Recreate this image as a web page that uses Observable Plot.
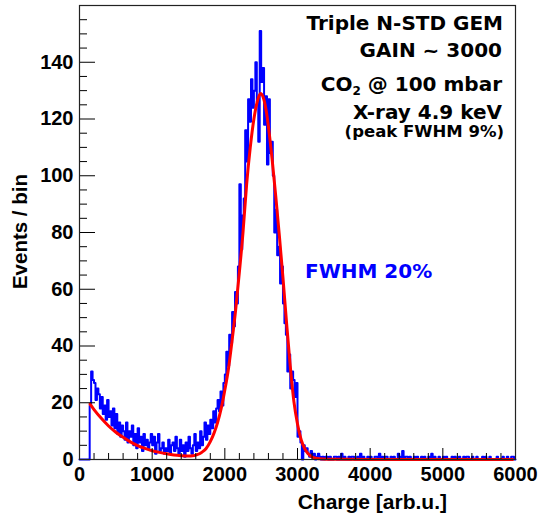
<!DOCTYPE html>
<html><head><meta charset="utf-8">
<script src="https://cdn.jsdelivr.net/npm/d3@7"></script>
<script src="https://cdn.jsdelivr.net/npm/@observablehq/plot@0.6"></script>
<style>body{margin:0;background:#fff}</style>
</head><body><div id="chart"></div>
<script>
// Histogram: bin low edge of first filled bin and bin width (arb.u.)
const firstEdge = 140;
const binWidth = 20;
// Events per bin, from 140 to 6000
const counts = [
  // 140 .. 980
  19,31,28,27,21,25,23,18,22,16,19,14,21,15,17,12,18,11,16,9,13,8,12,10,7,13,6,10,8,12,5,9,4,11,6,8,3,9,5,7,4,6,9,
  // 1000 .. 1580
  5,8,2,6,9,3,4,6,2,4,3,7,2,5,6,3,8,4,2,7,3,5,1,6,3,8,4,2,5,9,
  // 1600 .. 1980
  3,6,4,10,5,8,13,7,12,9,14,11,17,13,18,21,17,24,19,27,
  // 2000 .. 2480
  30,38,33,44,41,52,47,59,55,68,97,74,86,92,116,105,127,119,134,124,130,140,126,112,151,
  // 2500 .. 2980
  133,138,118,128,104,127,108,112,100,80,88,72,75,62,68,55,48,44,31,37,25,31,28,22,27,
  // 3000 .. 3380
  8,10,6,0,5,3,4,2,1,3,1,2,0,1,2,1,0,1,0,1,
  // 3400 .. 5980
  1,0,1,0,0,1,1,0,1,0,2,0,1,0,0,1,0,1,1,0,0,1,0,2,0,1,0,0,1,0,
  1,0,0,1,1,0,2,0,1,0,1,1,0,0,1,0,1,0,0,2,1,0,3,0,1,1,0,1,0,0,
  1,0,1,0,0,1,0,1,0,0,1,0,2,0,1,0,0,1,0,0,1,0,1,0,0,0,1,0,1,0,
  0,1,0,0,1,0,1,1,0,0,1,0,0,1,0,0,0,1,0,1,0,0,1,0,0,0,0,1,0,0,
  0,1,0,0,1,0,0,1,1,0
];
// Fit curve
const fitX = [145,200,300,400,500,600,700,800,900,1000,1100,1200,1300,1400,1500,1560,1620,1680,1740,1800,1850,1900,1950,2000,2050,2100,2150,2200,2250,2300,2350,2400,2450,2490,2530,2575,2620,2650,2700,2750,2800,2850,2900,2950,3000,3050,3100,3150,3200,3250,3300,3400,3600,4000,5000,5960];
const fitY = [19.5,17.6,14.5,11.8,9.6,7.8,6.2,4.9,3.9,3.1,2.5,2.0,1.6,1.35,1.2,1.3,1.7,2.5,3.8,6.3,9.2,13,18,24.5,32,42,53,66,80,97,110,120,126.5,129,127.5,122,113,106,93,79,64,48,33,20.5,12.5,7,3.8,1.9,0.9,0.45,0.25,0.1,0.05,0.02,0.01,0];

const xTickValues = [0,1000,2000,3000,4000,5000,6000];
const yTickValues = [0,20,40,60,80,100,120,140];
const xMinorStep = 200;
const yMinorStep = 5;

const infoLines = ["Triple N-STD GEM", "GAIN ~ 3000"];
const gasLabel = ["CO", "2", " @ 100 mbar"];
const xrayLabel = "X-ray 4.9 keV";
const peakLabel = "(peak FWHM 9%)";
const fwhmLabel = "FWHM 20%";
const xTitle = "Charge [arb.u.]";
const yTitle = "Events / bin";

const W = 541, H = 514, mL = 79, mR = 26, mT = 5, mB = 55;
const plotW = W - mL - mR, plotH = H - mT - mB;

const hist = [{x: 0, y: 0}].concat(counts.map((c, i) => ({x: firstEdge + binWidth * i, y: c})));
hist.push({x: firstEdge + binWidth * counts.length, y: counts[counts.length - 1]});
const fit = fitX.map((x, i) => ({x, y: fitY[i]}));

const xMinor = d3.range(0, 6001, xMinorStep).filter(v => v % 1000 !== 0);
const yMinor = d3.range(0, 160, yMinorStep).filter(v => v % 20 !== 0);

const tickFont = {fontSize: 20, fontWeight: "bold", fontFamily: "Liberation Sans, Arial, sans-serif"};

const chart = Plot.plot({
  width: W, height: H,
  marginLeft: mL, marginRight: mR, marginTop: mT, marginBottom: mB,
  style: {background: "#fff", color: "#000"},
  x: {domain: [0, 6000]},
  y: {domain: [0, 160]},
  marks: [
    Plot.line(hist, {x: "x", y: "y", curve: "step-after", stroke: "#0000ff", strokeWidth: 2}),
    Plot.line(fit, {x: "x", y: "y", curve: "monotone-x", stroke: "#ff0000", strokeWidth: 3}),
    Plot.tickY(yMinor, {y: d => d, insetRight: plotW - 8, stroke: "#000"}),
    Plot.tickY(yTickValues, {y: d => d, insetRight: plotW - 16, stroke: "#000"}),
    Plot.tickX(xMinor, {x: d => d, insetTop: plotH - 6, stroke: "#000"}),
    Plot.tickX(xTickValues, {x: d => d, insetTop: plotH - 11, stroke: "#000"}),
    Plot.frame({stroke: "#222", strokeWidth: 1.2}),
    Plot.axisX({ticks: xTickValues, tickSize: 0, tickPadding: 7, tickFormat: d3.format("d"), label: null, ...tickFont}),
    Plot.axisY({ticks: yTickValues, tickSize: 0, tickPadding: 6, tickFormat: d3.format("d"), label: null, ...tickFont})
  ]
});
document.getElementById("chart").appendChild(chart);

const svg = d3.select(chart);
const annFont = "DejaVu Sans, Verdana, sans-serif";
function addText(str, x, y, size, opts = {}) {
  const t = svg.append("text")
    .attr("x", x).attr("y", y)
    .attr("text-anchor", opts.anchor || "end")
    .attr("font-family", opts.family || annFont)
    .attr("font-weight", "bold")
    .attr("font-size", size)
    .attr("fill", opts.fill || "#000")
    .text(str);
  return t;
}
addText(infoLines[0], 503, 30, 20);
addText(infoLines[1], 502, 57, 20);
{
  const t = svg.append("text").attr("x", 502).attr("y", 91).attr("text-anchor", "end")
    .attr("font-family", annFont).attr("font-weight", "bold").attr("font-size", 20).attr("fill", "#000");
  t.append("tspan").text(gasLabel[0]);
  t.append("tspan").attr("font-size", 12).attr("dy", 4).text(gasLabel[1]);
  t.append("tspan").attr("dy", -4).text(gasLabel[2]);
}
addText(xrayLabel, 502, 119, 20);
addText(peakLabel, 504, 137, 16.5);
addText(fwhmLabel, 305, 278, 20, {anchor: "start", fill: "#0000ff"});
addText(xTitle, 447, 509, 21, {family: "Liberation Sans, Arial, sans-serif"});
svg.append("text")
  .attr("transform", "translate(27,174) rotate(-90)")
  .attr("text-anchor", "end")
  .attr("font-family", "Liberation Sans, Arial, sans-serif")
  .attr("font-weight", "bold").attr("font-size", 20.5).attr("fill", "#000")
  .text(yTitle);
</script>
</body></html>
